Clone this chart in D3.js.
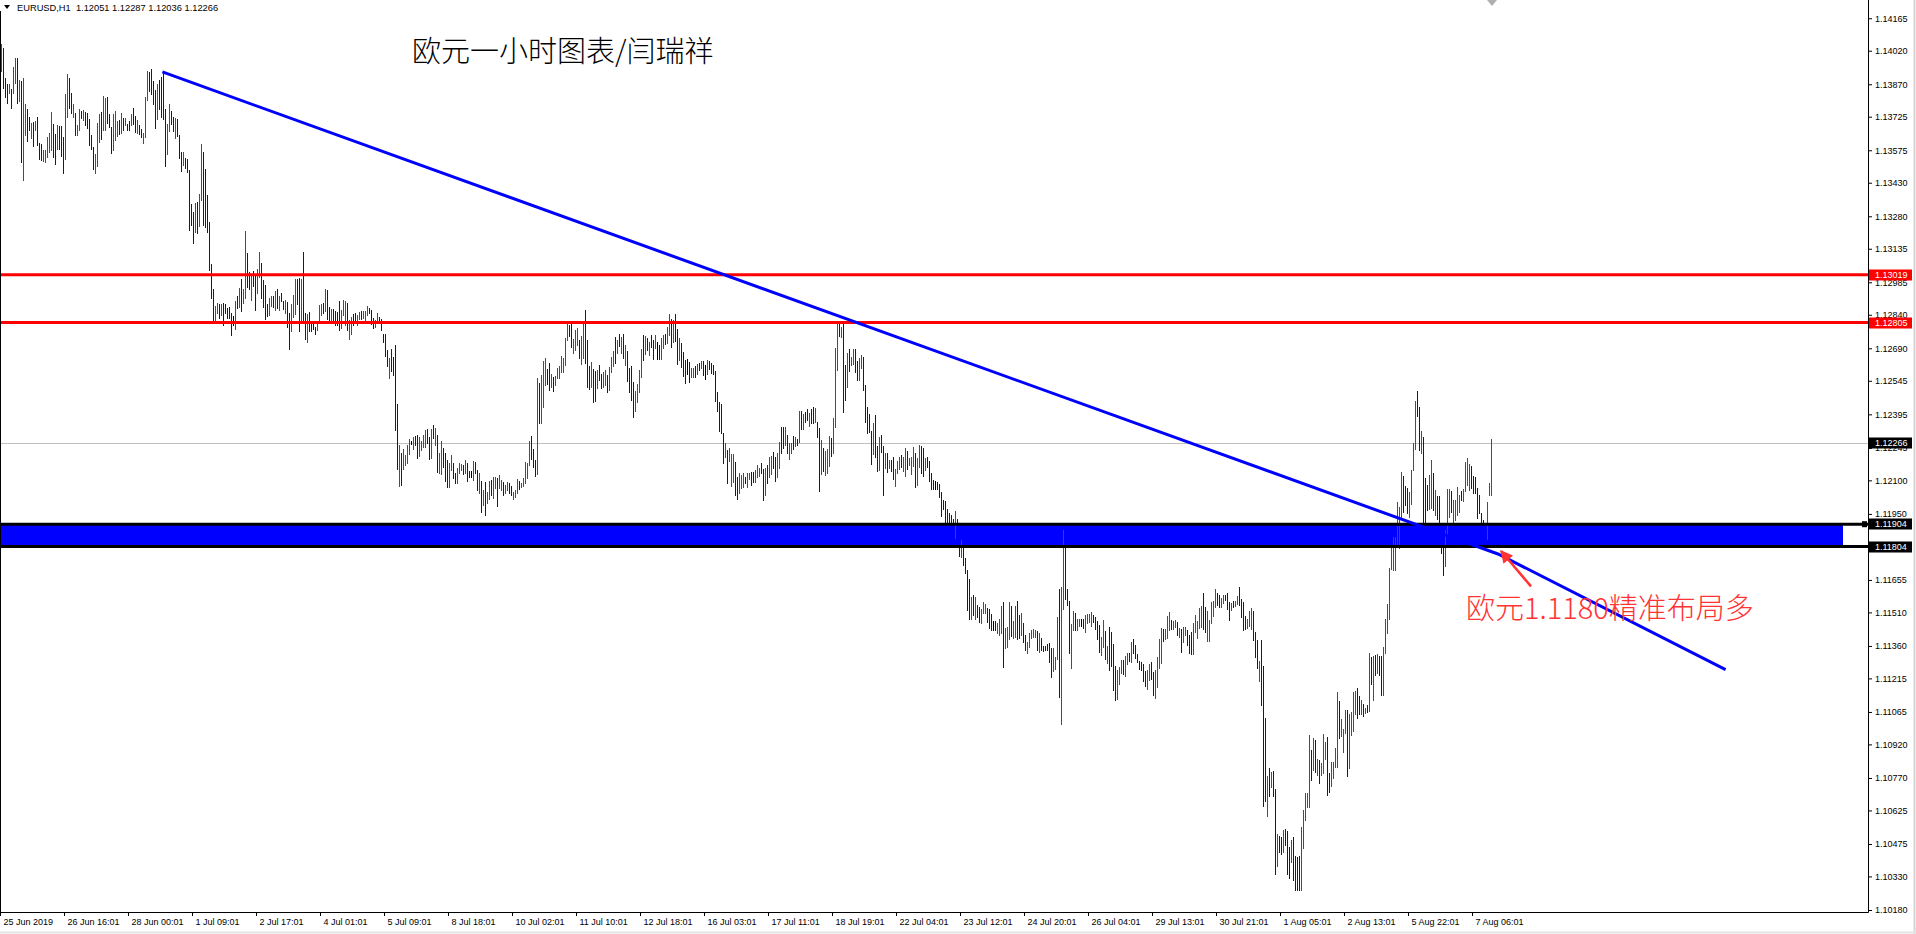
<!DOCTYPE html>
<html><head><meta charset="utf-8">
<script src="https://cdn.jsdelivr.net/npm/d3@7/dist/d3.min.js"></script>
<style>
html,body{margin:0;padding:0;background:#fff;overflow:hidden}
svg{display:block}
</style></head><body>
<svg id="chart" width="1916" height="934"></svg>
<script>
// ---------------- DATA ----------------
const symbolTitle = "EURUSD,H1";
const lastBarOHLC = ["1.12051", "1.12287", "1.12036", "1.12266"];
const chartTitle = "欧元一小时图表/闫瑞祥";
const noteText = "欧元1.1180精准布局多";

const timeLabels = ["25 Jun 2019","26 Jun 16:01","28 Jun 00:01","1 Jul 09:01","2 Jul 17:01","4 Jul 01:01","5 Jul 09:01","8 Jul 18:01","10 Jul 02:01","11 Jul 10:01","12 Jul 18:01","16 Jul 03:01","17 Jul 11:01","18 Jul 19:01","22 Jul 04:01","23 Jul 12:01","24 Jul 20:01","26 Jul 04:01","29 Jul 13:01","30 Jul 21:01","1 Aug 05:01","2 Aug 13:01","5 Aug 22:01","7 Aug 06:01"];
const timeLabelBars = [0,32,64,96,128,160,192,224,256,288,320,352,384,416,448,480,512,544,576,608,640,672,704,736];

const priceTicks = [1.14165,1.14020,1.13870,1.13725,1.13575,1.13430,1.13280,1.13135,1.12985,1.12840,1.12690,1.12545,1.12395,1.12245,1.12100,1.11950,1.11805,1.11655,1.11510,1.11360,1.11215,1.11065,1.10920,1.10770,1.10625,1.10475,1.10330,1.10180];

// H1 bars, prices in points (1e-5)
const highs = [
114050,114032,113900,113873,113873,113849,113949,113986,113988,113889,
113885,113898,113782,113760,113724,113697,113703,113706,113724,113609,
113602,113576,113576,113634,113652,113748,113693,113649,113688,113684,
113685,113634,113828,113918,113900,113831,113780,113740,113688,113760,
113751,113755,113748,113742,113715,113642,113590,113558,113697,113739,
113748,113818,113809,113813,113737,113678,113737,113751,113706,113710,
113742,113719,113721,113693,113706,113739,113763,113728,113710,113690,
113672,113651,113813,113929,113923,113937,113883,113845,113870,113889,
113901,113929,113761,113691,113783,113751,113725,113718,113715,113643,
113567,113567,113539,113536,113487,113335,113299,113338,113344,113380,
113603,113567,113491,113375,113253,113065,112955,
112879,112891,112886,112888,112891,112888,112868,112874,112849,112834,
112901,112924,112959,113000,112955,113214,113116,113031,113020,113035,
113023,113044,113120,113071,112994,112973,112888,112915,112924,112924,
112946,112955,112924,112936,112901,112906,112895,112848,112888,112928,
113000,113000,113004,113000,113120,112848,112843,112851,112809,112803,
112787,112809,112883,112888,112894,112955,112950,112874,112866,112866,
112857,112851,112901,112861,112906,112901,112892,112816,112830,112843,
112848,112839,112851,112857,112857,112857,112879,112870,112861,112825,
112816,112848,112830,112821,112754,112754,112682,112648,112687,112651,
112705,112441,112258,112222,112240,112213,112258,112285,112276,112293,
112298,112302,112292,112276,112301,112325,112329,
112295,112330,112348,112336,112303,112222,112276,112245,112221,112191,
112176,112215,112176,112134,112154,112178,112172,112169,112191,112176,
112142,112142,112187,112182,112146,112132,112097,112057,112093,112047,
112099,112102,112117,112115,112111,112123,112103,112093,112081,112093,
112090,112073,112050,112057,112105,112097,112087,112111,112182,112178,
112276,112298,112240,112191,112558,112535,112571,112634,112647,112598,
112625,112576,112564,112568,112602,112611,112656,112647,112736,112803,
112795,112799,112732,112772,112781,112728,112745,112812,112862,112728,
112611,112629,112598,112587,112593,112616,112576,112586,112593,112571,
112608,112652,112678,112741,112728,112756,112742,112754,112705,112678,
112604,112611,112540,112501,112531,112593,112687,
112750,112745,112735,112720,112751,112727,112751,112717,112705,112738,
112750,112753,112787,112843,112820,112817,112842,112776,112735,112715,
112672,112638,112644,112629,112604,112601,112611,112618,112623,112633,
112635,112614,112638,112632,112623,112614,112589,112496,112452,112441,
112310,112268,112236,112246,112219,112218,112182,112116,112131,112124,
112131,112116,112131,112134,112136,112139,112148,112167,112154,112177,
112152,112154,112170,112206,112210,112228,112206,112221,112273,112340,
112340,112340,112304,112265,112265,112298,112295,112283,112410,112410,
112396,112404,112420,112399,112419,112429,112422,112362,112332,112280,
112246,112233,112239,112300,112291,112377,112690,112805,112808,112787,
112812,112615,112669,112687,112651,112687,112685,
112633,112645,112660,112653,112526,112429,112396,112320,112355,112392,
112255,112295,112303,112253,112222,112222,112191,112191,112204,112152,
112186,112206,112212,112206,112244,112231,112198,112203,112250,112224,
112200,112258,112255,112246,112201,112206,112186,112131,112101,112097,
112094,112084,112049,112012,112008,111972,111952,111943,111926,111963,
111927,111863,111833,111814,111754,111699,111659,111580,111587,111580,
111544,111535,111523,111558,111546,111529,111526,111502,111473,111473,
111461,111480,111540,111556,111439,111446,111556,111540,111471,111538,
111561,111500,111508,111464,111409,111376,111416,111431,111437,111431,
111428,111416,111394,111361,111360,111368,111371,111349,111349,111309,
111490,111616,111625,111878,111803,111616,111562,
111458,111516,111507,111480,111480,111480,111480,111498,111503,111503,
111512,111498,111488,111473,111453,111400,111476,111427,111360,111445,
111422,111369,111270,111252,111267,111297,111297,111315,111328,111328,
111379,111391,111364,111324,111293,111288,111279,111249,111252,111279,
111288,111243,111252,111310,111391,111440,111436,111437,111495,111512,
111476,111471,111476,111467,111440,111436,111446,111446,111431,111409,
111422,111462,111498,111471,111529,111538,111596,111534,111516,111476,
111558,111561,111614,111598,111586,111576,111588,111588,111596,111555,
111553,111559,111562,111583,111623,111570,111558,111494,111480,111516,
111529,111518,111422,111386,111294,111386,111270,111038,110779,110813,
110796,110801,110720,110519,110510,110506,110537,
110541,110534,110462,110492,110507,110422,110418,110422,110552,110626,
110701,110701,110962,110895,110947,110939,110857,110850,110835,110966,
110932,110953,110790,110842,110842,110902,111155,111114,111033,110991,
111073,111073,111058,111066,111155,111160,111170,111136,111118,111099,
111084,111096,111330,111309,111316,111319,111324,111316,111316,111356,
111479,111547,111710,111804,111848,111848,112005,111982,112139,112119,
112076,112064,112049,112146,112268,112455,112499,112429,112320,112295,
112109,112079,112124,112191,112134,112057,112030,112030,111908,111871,
111878,112063,112061,112052,112012,112012,112069,112034,112054,112063,
112180,112198,112173,112164,112119,112116,112064,112036,111952,111923,
111893,112005,112087,112287];

const lows = [
113931,113855,113812,113785,113830,113766,113830,113874,113785,113797,
113524,113441,113642,113618,113666,113631,113596,113667,113597,113535,
113530,113529,113524,113544,113566,113576,113547,113515,113582,113581,
113551,113475,113538,113725,113763,113743,113722,113645,113645,113667,
113719,113710,113690,113676,113597,113579,113493,113475,113505,113612,
113627,113667,113667,113696,113678,113564,113578,113623,113637,113648,
113654,113666,113690,113667,113666,113687,113693,113655,113654,113646,
113633,113606,113634,113800,113840,113825,113780,113676,113716,113761,
113725,113716,113506,113557,113660,113691,113660,113631,113640,113539,
113482,113508,113494,113479,113217,113241,113162,113211,113207,113238,
113353,113240,113231,113211,113040,112913,112809,
112816,112846,112827,112839,112794,112848,112827,112827,112749,112794,
112778,112870,112873,112857,112892,112913,112964,112955,112907,112968,
112863,112936,113010,112916,112874,112822,112834,112840,112879,112873,
112863,112870,112863,112900,112866,112848,112785,112688,112767,112830,
112842,112886,112767,112801,112803,112731,112719,112767,112767,112776,
112754,112772,112809,112839,112848,112857,112821,112815,112818,112816,
112794,112794,112772,112781,112839,112794,112772,112731,112754,112794,
112804,112796,112821,112821,112825,112818,112839,112848,112798,112779,
112787,112803,112803,112772,112719,112657,112612,112559,112588,112572,
112326,112152,112076,112080,112152,112168,112179,112219,112264,112241,
112258,112198,112210,112237,112250,112249,112268,
112196,112202,112288,112258,112139,112133,112130,112158,112099,112072,
112072,112146,112109,112090,112087,112132,112146,112129,112132,112099,
112114,112114,112102,112132,112057,112045,111960,111990,111945,112000,
112017,112035,112020,112067,111985,112064,112057,112035,112045,112057,
112042,112035,112017,112027,112042,112062,112072,112075,112087,112111,
112167,112194,112161,112121,112128,112355,112358,112428,112526,112529,
112504,112519,112501,112526,112556,112559,112586,112584,112616,112728,
112747,112698,112669,112683,112705,112646,112620,112646,112623,112519,
112508,112517,112450,112453,112511,112549,112513,112519,112526,112497,
112504,112584,112613,112623,112671,112701,112668,112646,112616,112546,
112497,112459,112385,112412,112452,112495,112564,
112638,112663,112683,112660,112697,112644,112690,112642,112642,112644,
112690,112708,112712,112750,112697,112720,112724,112618,112638,112608,
112566,112536,112575,112541,112563,112560,112563,112577,112593,112601,
112572,112553,112575,112598,112578,112574,112455,112411,112320,112311,
112179,112206,112087,112188,112075,112091,112033,112018,112042,112064,
112072,112088,112070,112106,112079,112094,112091,112115,112121,112131,
112012,112036,112087,112116,112130,112154,112097,112116,112154,112224,
112243,112258,112221,112194,112224,112242,112253,112258,112270,112328,
112331,112362,112370,112344,112355,112358,112361,112292,112054,112127,
112142,112124,112131,112164,112209,112221,112340,112593,112745,112742,
112407,112459,112519,112590,112615,112620,112586,
112548,112548,112601,112504,112362,112310,112317,112174,112218,112206,
112143,112148,112228,112036,112154,112136,112157,112143,112107,112076,
112134,112151,112161,112142,112121,112149,112168,112130,112165,112072,
112079,112161,112131,112119,112146,112161,112098,112061,112061,112061,
112061,112027,111942,111973,111912,111908,111911,111908,111911,111844,
111833,111763,111759,111720,111684,111520,111479,111479,111498,111479,
111488,111468,111461,111505,111505,111468,111441,111431,111431,111431,
111416,111411,111420,111267,111353,111356,111391,111404,111394,111401,
111392,111394,111411,111379,111342,111330,111356,111394,111401,111401,
111342,111334,111342,111339,111342,111342,111289,111222,111249,111255,
111301,111133,111012,111526,111570,111543,111327,
111263,111431,111431,111431,111449,111449,111440,111422,111464,111467,
111449,111467,111436,111391,111334,111319,111355,111301,111282,111252,
111270,111163,111118,111124,111190,111237,111234,111225,111279,111294,
111288,111328,111304,111287,111255,111252,111203,111181,111169,111208,
111214,111141,111129,111178,111263,111285,111382,111392,111397,111431,
111437,111437,111446,111409,111400,111333,111377,111409,111364,111328,
111324,111324,111422,111397,111439,111446,111436,111422,111382,111382,
111464,111494,111535,111543,111535,111535,111550,111565,111526,111477,
111520,111532,111538,111549,111543,111491,111431,111436,111442,111449,
111434,111386,111312,111263,111205,111096,110644,110667,110600,110689,
110731,110689,110339,110378,110439,110430,110439,
110470,110343,110321,110395,110313,110269,110269,110269,110269,110455,
110582,110641,110641,110760,110805,110798,110783,110746,110783,110790,
110857,110696,110708,110735,110768,110820,110820,110950,110957,110884,
110969,110780,110816,110962,110981,111054,111039,111058,111054,111047,
111061,111066,111069,111190,111118,111230,111237,111230,111143,111140,
111327,111419,111480,111702,111699,111699,111804,111796,111930,111957,
111990,111952,111938,111993,112146,112240,112388,112236,112224,111911,
111880,111967,111973,111976,111967,111945,111927,111893,111777,111677,
111719,111860,111938,111957,111915,111923,111945,111960,112012,112009,
112052,112079,112057,112064,112042,112042,111930,111952,111908,111856,
111833,111836,112035,112036];

const opens = [
113961,113988,113878,113851,113841,113828,113860,113902,113937,113820,
113795,113555,113677,113725,113709,113647,113676,113677,113692,113591,
113584,113541,113537,113566,113587,113619,113657,113616,113608,113658,
113652,113594,113610,113773,113866,113809,113736,113716,113656,113690,
113743,113721,113734,113726,113685,113626,113566,113496,113553,113644,
113718,113705,113703,113784,113722,113650,113618,113655,113654,113695,
113676,113706,113698,113687,113696,113700,113746,113710,113668,113679,
113662,113617,113679,113832,113902,113909,113857,113803,113754,113857,
113857,113876,113697,113590,113691,113736,113709,113653,113696,113617,
113546,113523,113528,113522,113419,113311,113265,113243,113310,113274,
113416,113485,113426,113334,113200,113027,112918,
112832,112857,112871,112851,112867,112878,112858,112862,112824,112814,
112809,112910,112895,112964,112908,112988,113078,113012,112935,113018,
112983,112963,113037,113032,112964,112935,112875,112859,112890,112911,
112884,112934,112878,112927,112892,112862,112868,112808,112797,112854,
112882,112972,112945,112851,113041,112819,112750,112830,112799,112796,
112779,112781,112827,112851,112883,112881,112918,112859,112830,112854,
112841,112837,112869,112801,112856,112821,112862,112752,112773,112831,
112837,112807,112828,112848,112833,112828,112849,112865,112845,112814,
112794,112814,112823,112809,112745,112730,112665,112581,112662,112631,
112610,112369,112121,112187,112174,112179,112199,112235,112270,112254,
112288,112276,112230,112247,112263,112268,112314,
112270,112234,112333,112278,112262,112155,112166,112223,112191,112161,
112098,112163,112159,112123,112104,112143,112152,112159,112147,112157,
112135,112128,112123,112170,112124,112067,112063,112007,112056,112012,
112037,112085,112044,112079,112080,112079,112068,112079,112054,112066,
112078,112063,112025,112035,112058,112088,112076,112084,112111,112128,
112194,112272,112220,112173,112236,112490,112411,112480,112556,112581,
112595,112533,112548,112536,112568,112572,112604,112600,112646,112747,
112783,112774,112685,112705,112724,112708,112651,112687,112802,112676,
112585,112545,112561,112554,112531,112599,112560,112536,112543,112553,
112530,112601,112629,112711,112685,112742,112686,112727,112638,112645,
112577,112573,112501,112434,112472,112520,112595,
112722,112683,112722,112675,112738,112706,112705,112680,112689,112667,
112705,112742,112731,112773,112789,112744,112812,112736,112662,112688,
112645,112612,112610,112607,112573,112570,112599,112587,112615,112609,
112619,112584,112591,112623,112612,112604,112555,112475,112419,112408,
112277,112222,112199,112203,112111,112123,112145,112091,112064,112079,
112087,112109,112085,112113,112122,112128,112105,112128,112129,112165,
112117,112066,112149,112138,112150,112210,112179,112142,112184,112311,
112316,112278,112283,112212,112234,112284,112263,112277,112305,112390,
112347,112394,112408,112358,112403,112411,112376,112345,112262,112165,
112220,112151,112158,112198,112271,112260,112427,112646,112792,112753,
112712,112576,112556,112663,112624,112637,112660,
112612,112572,112616,112616,112485,112399,112376,112284,112252,112346,
112227,112185,112284,112199,112171,112201,112165,112179,112180,112095,
112147,112165,112199,112158,112152,112211,112175,112148,112186,112186,
112109,112185,112224,112214,112160,112195,112164,112114,112091,112079,
112086,112070,112022,112002,111984,111956,111942,111934,111922,111874,
111904,111838,111777,111791,111737,111654,111614,111504,111565,111504,
111530,111518,111476,111518,111515,111514,111505,111484,111452,111463,
111427,111428,111450,111484,111374,111378,111432,111506,111413,111435,
111519,111474,111435,111443,111392,111341,111371,111403,111410,111408,
111407,111354,111381,111356,111356,111362,111351,111317,111274,111268,
111348,111496,111162,111614,111745,111598,111503,
111312,111452,111488,111443,111457,111464,111470,111441,111474,111476,
111465,111490,111475,111453,111423,111339,111385,111395,111302,111397,
111384,111317,111232,111156,111209,111252,111281,111247,111291,111320,
111311,111375,111349,111315,111283,111279,111260,111232,111190,111226,
111270,111218,111160,111211,111295,111324,111423,111403,111421,111451,
111466,111445,111454,111453,111410,111410,111394,111418,111414,111389,
111397,111359,111441,111416,111462,111469,111556,111506,111416,111406,
111488,111511,111555,111584,111573,111545,111560,111582,111578,111535,
111528,111552,111544,111558,111603,111550,111526,111479,111452,111466,
111458,111485,111394,111355,111227,111313,111113,110945,110645,110782,
110747,110773,110625,110413,110492,110487,110464,
110523,110486,110427,110419,110458,110384,110381,110384,110340,110498,
110612,110656,110721,110861,110841,110904,110801,110824,110796,110834,
110876,110889,110770,110762,110786,110840,110904,111073,110976,110911,
110995,111000,110876,110988,111024,111080,111137,111116,111070,111086,
111067,111088,111134,111279,111168,111297,111259,111294,111273,111194,
111365,111451,111538,111728,111736,111736,111854,111843,111982,112079,
112055,112036,111966,112031,112176,112294,112471,112381,112248,112199,
112052,112051,112011,112030,112092,111973,112004,111996,111875,111822,
111759,111911,111969,112028,111939,111945,111976,111978,112044,112022,
112084,112109,112086,112139,112100,112098,112031,112015,111941,111906,
111878,111878,112048,112051];

const closes = [
114020,113899,113834,113807,113862,113787,113919,113958,113836,113866,
113614,113784,113747,113653,113681,113681,113623,113696,113629,113553,
113548,113564,113563,113612,113631,113705,113583,113548,113662,113607,
113584,113515,113756,113870,113797,113765,113766,113669,113677,113737,
113727,113744,113704,113692,113627,113595,113517,113537,113649,113707,
113657,113780,113773,113725,113693,113592,113697,113719,113689,113663,
113720,113679,113713,113673,113676,113726,113710,113673,113696,113657,
113643,113640,113768,113897,113861,113853,113806,113718,113832,113793,
113769,113769,113570,113658,113752,113706,113676,113696,113659,113565,
113503,113552,113505,113493,113285,113265,113196,113306,113241,113344,
113540,113322,113296,113252,113093,112951,112846,
112863,112880,112842,112876,112818,112858,112837,112839,112774,112814,
112870,112884,112937,112893,112939,113139,113002,112974,112992,112985,
112903,113017,113093,112955,112904,112860,112847,112896,112913,112886,
112925,112891,112909,112909,112875,112892,112812,112728,112858,112904,
112960,112914,112826,112950,112882,112760,112812,112788,112777,112783,
112762,112800,112865,112876,112859,112931,112853,112830,112854,112828,
112810,112808,112804,112841,112889,112874,112802,112795,112811,112806,
112815,112828,112844,112830,112849,112847,112869,112853,112814,112790,
112809,112837,112810,112784,112728,112681,112629,112626,112613,112592,
112421,112224,112213,112115,112218,112202,112238,112269,112270,112280,
112268,112224,112272,112266,112288,112306,112283,
112221,112298,112303,112316,112180,112200,112240,112180,112129,112102,
112150,112198,112126,112101,112137,112167,112166,112139,112176,112118,
112121,112128,112166,112144,112079,112110,111994,112040,111982,112035,
112079,112052,112093,112103,112016,112108,112092,112049,112072,112084,
112054,112045,112042,112049,112089,112071,112083,112102,112158,112161,
112249,112220,112181,112139,112450,112400,112518,112582,112617,112546,
112534,112562,112517,112558,112590,112598,112638,112631,112706,112784,
112759,112723,112716,112750,112762,112666,112714,112771,112683,112571,
112534,112601,112487,112486,112573,112566,112529,112569,112576,112515,
112582,112635,112662,112653,112714,112715,112724,112673,112683,112579,
112524,112497,112424,112479,112511,112568,112656,
112666,112725,112696,112705,112710,112665,112736,112680,112658,112715,
112735,112719,112768,112820,112728,112793,112754,112658,112711,112635,
112593,112562,112610,112563,112594,112591,112575,112608,112601,112625,
112588,112584,112622,112607,112589,112584,112489,112432,112353,112344,
112212,112252,112124,112231,112183,112186,112070,112043,112109,112109,
112116,112095,112116,112127,112093,112105,112134,112154,112146,112143,
112047,112124,112108,112184,112190,112172,112124,112195,112243,112253,
112267,112320,112242,112247,112255,112256,112285,112264,112375,112348,
112380,112372,112382,112385,112371,112376,112407,112309,112124,112242,
112168,112206,112212,112266,112229,112338,112603,112752,112761,112776,
112507,112498,112632,112614,112642,112670,112611,
112569,112621,112645,112541,112403,112340,112337,112210,112321,112252,
112171,112258,112247,112090,112205,112157,112183,112155,112131,112133,
112173,112192,112174,112190,112213,112169,112191,112185,112229,112110,
112170,112234,112162,112151,112187,112172,112120,112078,112071,112079,
112069,112041,111969,111983,111936,111924,111921,111917,111915,111933,
111856,111788,111815,111743,111701,111565,111524,111555,111520,111555,
111502,111485,111508,111545,111536,111483,111462,111449,111452,111441,
111450,111463,111510,111339,111418,111424,111515,111438,111452,111504,
111434,111420,111484,111400,111359,111365,111401,111422,111428,111424,
111363,111396,111355,111344,111346,111348,111309,111254,111324,111296,
111443,111253,111475,111790,111628,111561,111386,
111409,111495,111450,111468,111472,111464,111450,111479,111493,111494,
111496,111475,111449,111411,111364,111380,111446,111333,111340,111300,
111308,111215,111156,111220,111248,111282,111250,111293,111316,111302,
111356,111344,111319,111296,111265,111261,111222,111198,111231,111261,
111232,111166,111221,111277,111359,111401,111395,111426,111471,111492,
111447,111463,111468,111423,111430,111359,111429,111437,111381,111348,
111349,111427,111479,111452,111506,111515,111476,111450,111482,111452,
111534,111544,111594,111557,111548,111566,111578,111571,111544,111497,
111545,111539,111556,111574,111563,111511,111463,111451,111470,111499,
111505,111419,111340,111294,111272,111169,110801,110760,110734,110720,
110780,110717,110434,110484,110457,110449,110512,
110488,110391,110356,110468,110362,110307,110306,110307,110481,110583,
110671,110686,110882,110794,110911,110833,110839,110772,110822,110922,
110913,110760,110728,110815,110824,110882,111071,110991,111014,110964,
111047,110853,110998,111040,111112,111134,111072,111078,111102,111060,
111078,111074,111265,111220,111266,111252,111302,111252,111186,111302,
111441,111515,111652,111778,111811,111811,111955,111935,112087,111997,
112011,111980,112021,112108,112238,112401,112416,112284,112296,112007,
111937,111995,112086,112137,112009,112029,111953,111927,111810,111726,
111838,112012,112030,111981,111988,111990,112038,112016,112022,112050,
112148,112168,112144,112089,112061,112060,111963,111973,111919,111873,
111848,111963,112074,112266];

// objects drawn on the chart: [bar index, price]
const resistanceLevels = [1.13019, 1.12805];
const supportTop = 1.11904;
const supportBottom = 1.11804;
const supportEndBar = 921;
const bidPrice = 1.12266;
const trendLinePts = [[80.7, 1.13925], [748.5, 1.11771], [862.3, 1.11254]];
const arrowPts = [[765, 1.11626], [750, 1.11784]];
const titleAnchor = [205.5, 1.13970];
const noteAnchor = [732.5, 1.11480];
const axisMarkers = [[1.13019, "#ff0000"], [1.12805, "#ff0000"], [1.12266, "#000000"], [1.11904, "#000000"], [1.11804, "#000000"]];

// ---------------- DRAW ----------------
const W = 1916, H = 934, plotRight = 1868, plotBottom = 912;
const n = Math.min(highs.length, lows.length, opens.length, closes.length);
const pt = v => v / 1e5;
const x = d3.scaleLinear().domain([-0.5, 745.5]).range([0, 1492]);
const y = d3.scaleLinear().domain([1.10180, 1.14020]).range([910, 50.7]);
const UI = '"Liberation Sans", Arial, sans-serif';
const CJK = '"Noto Sans CJK SC", "Noto Sans CJK JP", sans-serif';

const svg = d3.select("#chart");
svg.append("rect").attr("width", W).attr("height", H).attr("fill", "#fff");
svg.append("defs").append("clipPath").attr("id", "plotClip")
  .append("rect").attr("x", 0).attr("y", 0).attr("width", plotRight).attr("height", plotBottom);
const defs = svg.select("defs");
defs.append("marker").attr("id", "arrowHead").attr("viewBox", "0 0 10 10")
  .attr("refX", 9).attr("refY", 5).attr("markerWidth", 6).attr("markerHeight", 5)
  .attr("orient", "auto").attr("markerUnits", "strokeWidth")
  .append("path").attr("d", "M0,0 L10,5 L0,10 Z").attr("fill", "#ff3333");

const plot = svg.append("g").attr("clip-path", "url(#plotClip)");

// support zone fill (background object)
plot.append("rect")
  .attr("x", 0).attr("y", y(supportTop))
  .attr("width", x(supportEndBar)).attr("height", y(supportBottom) - y(supportTop))
  .attr("fill", "#0000ff");

// bid line
plot.append("line").attr("x1", 0).attr("x2", plotRight)
  .attr("y1", Math.round(y(bidPrice)) + 0.5).attr("y2", Math.round(y(bidPrice)) + 0.5)
  .attr("stroke", "#c0c0c0").attr("stroke-width", 1);

// bars
plot.append("g").attr("shape-rendering", "crispEdges")
  .selectAll("rect").data(d3.range(n)).join("rect")
  .attr("x", i => Math.round(x(i)))
  .attr("width", 1)
  .attr("y", i => Math.round(y(pt(highs[i]))))
  .attr("height", i => Math.max(1, Math.round(y(pt(lows[i]))) - Math.round(y(pt(highs[i]))) + 1))
  .attr("fill", i => closes[i] > opens[i] ? "#ff0000" : (closes[i] < opens[i] ? "#0000ff" : "#000000"));

// support zone border lines
[supportTop, supportBottom].forEach(p => {
  plot.append("line").attr("x1", 0).attr("x2", plotRight)
    .attr("y1", y(p)).attr("y2", y(p)).attr("stroke", "#000").attr("stroke-width", 3);
});
plot.append("rect").attr("x", 1862).attr("y", y(supportTop) - 3).attr("width", 5).attr("height", 6).attr("fill", "#000");

// resistance lines
resistanceLevels.forEach(p => {
  plot.append("line").attr("x1", 0).attr("x2", plotRight)
    .attr("y1", y(p)).attr("y2", y(p)).attr("stroke", "#ff0000").attr("stroke-width", 3);
});

// trend line
plot.append("path").datum(trendLinePts)
  .attr("d", d3.line().x(d => x(d[0])).y(d => y(d[1])))
  .attr("fill", "none").attr("stroke", "#0000ff").attr("stroke-width", 3);

// annotation arrow
plot.append("line")
  .attr("x1", x(arrowPts[0][0])).attr("y1", y(arrowPts[0][1]))
  .attr("x2", x(arrowPts[1][0])).attr("y2", y(arrowPts[1][1]))
  .attr("stroke", "#ff3333").attr("stroke-width", 2.5).attr("marker-end", "url(#arrowHead)");

// texts on chart
plot.append("text").attr("x", x(titleAnchor[0])).attr("y", y(titleAnchor[1]))
  .attr("font-family", CJK).attr("font-size", 29).attr("font-weight", 300).attr("fill", "#000")
  .text(chartTitle);
plot.append("text").attr("x", x(noteAnchor[0])).attr("y", y(noteAnchor[1]))
  .attr("font-family", CJK).attr("font-size", 29).attr("font-weight", 300).attr("fill", "#ff3333")
  .text(noteText);

// chart-shift marker
svg.append("path").attr("d", `M${x(745.5) - 5},0 L${x(745.5) + 5},0 L${x(745.5)},6 Z`).attr("fill", "#b0b0b0");

// header
svg.append("path").attr("d", "M4,5 L10,5 L7,9 Z").attr("fill", "#000");
svg.append("text").attr("x", 17).attr("y", 11).attr("font-family", UI).attr("font-size", 9.3)
  .attr("fill", "#000").style("white-space", "pre")
  .text(symbolTitle + "  " + lastBarOHLC.join(" "));

// frame lines
svg.append("line").attr("x1", 0.5).attr("x2", 0.5).attr("y1", 11).attr("y2", plotBottom).attr("stroke", "#000");
svg.append("line").attr("x1", plotRight + 0.5).attr("x2", plotRight + 0.5).attr("y1", 0).attr("y2", plotBottom + 0.5).attr("stroke", "#000");
svg.append("line").attr("x1", 0).attr("x2", plotRight + 0.5).attr("y1", plotBottom + 0.5).attr("y2", plotBottom + 0.5).attr("stroke", "#000");
svg.append("line").attr("x1", 1914.5).attr("x2", 1914.5).attr("y1", 0).attr("y2", H).attr("stroke", "#d4d4d4").attr("stroke-width", 2);
svg.append("line").attr("x1", 0).attr("x2", W).attr("y1", 932.5).attr("y2", 932.5).attr("stroke", "#e4e4e4").attr("stroke-width", 2);

// right price axis
const ay = svg.append("g").attr("transform", `translate(${plotRight},0)`)
  .call(d3.axisRight(y).tickValues(priceTicks).tickFormat(d3.format(".5f")).tickSize(4).tickPadding(3));
ay.select(".domain").remove();
ay.attr("font-family", UI).attr("font-size", 9);
ay.selectAll("text").attr("fill", "#000");

// price markers on axis
const mk = svg.append("g");
axisMarkers.forEach(([p, c]) => {
  const yy = Math.round(y(p));
  mk.append("rect").attr("x", plotRight + 1).attr("y", yy - 5.5).attr("width", 43).attr("height", 11).attr("fill", c);
  mk.append("text").attr("x", plotRight + 7).attr("y", yy + 3.3).attr("font-family", UI).attr("font-size", 9)
    .attr("fill", "#fff").text(p.toFixed(5));
});

// bottom time axis
const ax = svg.append("g").attr("transform", `translate(0,${plotBottom})`)
  .call(d3.axisBottom(x).tickValues(timeLabelBars.map(b => b - 0.5))
    .tickFormat((d, i) => timeLabels[i]).tickSize(4).tickPadding(3));
ax.select(".domain").remove();
ax.attr("font-family", UI).attr("font-size", 9);
ax.selectAll("text").attr("text-anchor", "start").attr("x", 3).attr("fill", "#000");
</script>
</body></html>
